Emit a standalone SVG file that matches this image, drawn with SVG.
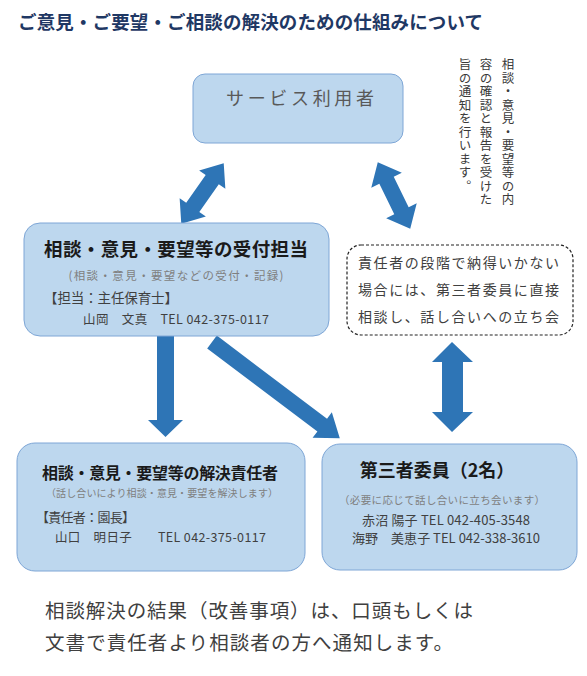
<svg xmlns="http://www.w3.org/2000/svg" width="587" height="676" viewBox="0 0 587 676">
<style>
text{font-family:"Noto Sans CJK JP","Noto Sans",sans-serif;}
.box{fill:#bdd7ee;stroke:#7ea6d6;stroke-width:1;}
.dash{fill:#fff;stroke:#222;stroke-width:1.2;stroke-dasharray:3 2;}
.arr{fill:#2e75b6;}
.h{font-weight:bold;fill:#1a1a1a;}
.sub{fill:#7f7f7f;}
.t{fill:#404040;}
.vt{writing-mode:vertical-rl;text-orientation:upright;font-size:12.5px;letter-spacing:1px;fill:#3a3a3a;}
</style>
<rect width="587" height="676" fill="#fff"/>
<text x="18" y="29" font-size="18.5" font-weight="bold" fill="#1f3864" textLength="465" lengthAdjust="spacing">ご意見・ご要望・ご相談の解決のための仕組みについて</text>
<g id="connectors">
<polygon class="arr" points="-37,0 -17,-16 -17,-8 17,-8 17,-16 37,0 17,16 17,8 -17,8 -17,16" transform="translate(202.5,193.5) rotate(-55)"/>
<polygon class="arr" points="-37,0 -17,-17 -17,-8 17,-8 17,-17 37,0 17,17 17,8 -17,8 -17,17" transform="translate(394,195.5) rotate(64)"/>
<polygon class="arr" points="157,336 174,336 174,420 183,420 165.5,437 148,420 157,420"/>
<polygon class="arr" points="0,-8 138,-8 138,-16 160,0 138,16 138,8 0,8" transform="translate(212,342) rotate(37)"/>
<polygon class="arr" points="452,342 473,362 463,362 463,412 473,412 452,432 432,412 442,412 442,362 432,362"/>
</g>
<g id="user">
<rect class="box" x="193" y="74" width="210" height="69" rx="12"/>
<text x="300" y="105" font-size="18" fill="#595959" text-anchor="middle" textLength="148" lengthAdjust="spacing">サービス利用者</text>
</g>
<g id="note">
<text class="vt" x="508" y="58">相談・意見・要望等の内</text>
<text class="vt" x="486" y="58">容の確認と報告を受けた</text>
<text class="vt" x="465" y="58">旨の通知を行います。</text>
</g>
<g id="reception">
<rect class="box" x="24" y="223" width="305" height="113" rx="16"/>
<text class="h" x="176" y="256" font-size="18.5" text-anchor="middle" textLength="264" lengthAdjust="spacing">相談・意見・要望等の受付担当</text>
<text class="sub" x="176" y="280" font-size="11.5" text-anchor="middle" textLength="215" lengthAdjust="spacing">(相談・意見・要望などの受付・記録)</text>
<text class="t" x="44" y="303" font-size="13.5" textLength="134" lengthAdjust="spacing">【担当：主任保育士】</text>
<text class="t" x="83" y="324" font-size="12.5" textLength="186" lengthAdjust="spacing">山岡　文真　TEL 042-375-0117</text>
</g>
<g id="direct">
<rect class="dash" x="347" y="245" width="226" height="90" rx="14"/>
<text class="t" x="358" y="268" font-size="14" fill="#595959" textLength="201" lengthAdjust="spacing">責任者の段階で納得いかない</text>
<text class="t" x="358" y="295" font-size="14" fill="#595959" textLength="201" lengthAdjust="spacing">場合には、第三者委員に直接</text>
<text class="t" x="358" y="322" font-size="14" fill="#595959" textLength="201" lengthAdjust="spacing">相談し、話し合いへの立ち会</text>
</g>
<g id="resolver">
<rect class="box" x="17" y="443" width="288" height="128" rx="18"/>
<text class="h" x="160" y="479" font-size="16" text-anchor="middle" textLength="236" lengthAdjust="spacing">相談・意見・要望等の解決責任者</text>
<text class="sub" x="162" y="497" font-size="10" text-anchor="middle" textLength="232" lengthAdjust="spacing">（話し合いにより相談・意見・要望を解決します）</text>
<text class="t" x="36" y="522" font-size="13" textLength="99" lengthAdjust="spacing">【責任者：園長】</text>
<text class="t" x="55" y="542" font-size="12.5" textLength="211" lengthAdjust="spacing">山口　明日子　　TEL 042-375-0117</text>
</g>
<g id="third">
<rect class="box" x="322" y="444" width="255" height="126" rx="18"/>
<text class="h" x="437" y="477" font-size="18" text-anchor="middle">第三者委員（2名）</text>
<text class="sub" x="442" y="504" font-size="10.5" text-anchor="middle" textLength="206" lengthAdjust="spacing">（必要に応じて話し合いに立ち会います）</text>
<text class="t" x="446" y="525" font-size="13" text-anchor="middle" textLength="168" lengthAdjust="spacing">赤沼 陽子 TEL 042-405-3548</text>
<text class="t" x="446" y="543" font-size="13" text-anchor="middle" textLength="188" lengthAdjust="spacing">海野　美恵子 TEL 042-338-3610</text>
</g>
<g id="result">
<text x="45" y="618" font-size="19.5" fill="#404040" textLength="428" lengthAdjust="spacing">相談解決の結果（改善事項）は、口頭もしくは</text>
<text x="45" y="650" font-size="19.5" fill="#404040" textLength="408" lengthAdjust="spacing">文書で責任者より相談者の方へ通知します。</text>
</g>
</svg>
